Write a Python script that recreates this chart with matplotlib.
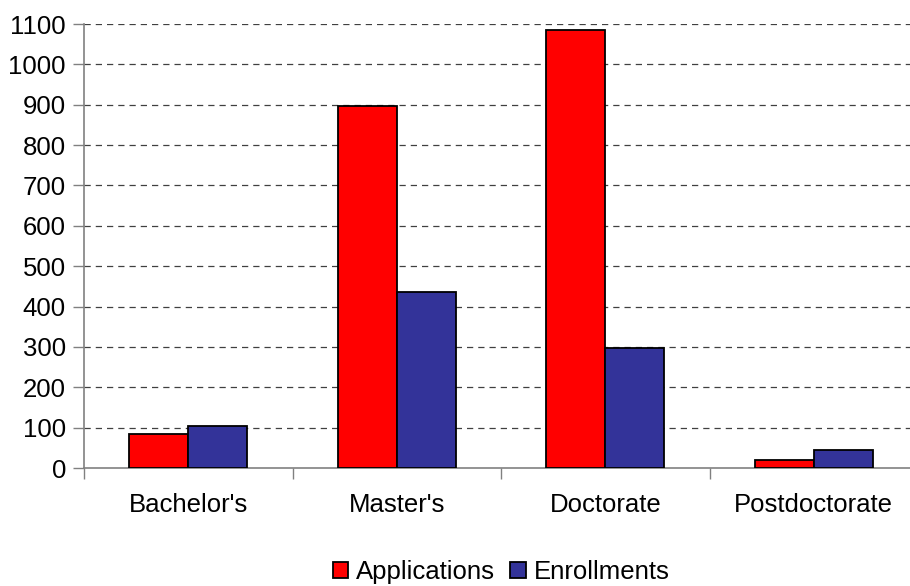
import numpy as np
import matplotlib
matplotlib.use('Agg')
import matplotlib.pyplot as plt

plt.rcParams['font.family'] = ['Liberation Sans', 'DejaVu Sans']

# Datos
categorias = ["Bachelor's", "Master's", "Doctorate", "Postdoctorate"]
applications = [84, 897, 1085, 20]
enrollments = [104, 437, 298, 45]

fig = plt.figure(figsize=(9.1, 5.86), dpi=100)
ax = fig.add_axes([84 / 910, 1 - 468 / 586, 834 / 910, 444 / 586])

x = np.arange(len(categorias))
ancho = 0.284
ax.bar(x - ancho / 2, applications, ancho, color='#FF0000', edgecolor='black',
       linewidth=1.3, label='Applications', zorder=3)
ax.bar(x + ancho / 2, enrollments, ancho, color='#333399', edgecolor='black',
       linewidth=1.3, label='Enrollments', zorder=3)

ax.set_xlim(-0.5, len(categorias) - 0.5)
ax.set_ylim(0, 1100)
ax.set_yticks(np.arange(0, 1101, 100))
ax.tick_params(axis='y', labelsize=18.5, length=8, width=1, color='#808080', pad=5)

# ticks del eje x en los bordes de cada categoria, etiquetas centradas
ax.set_xticks(np.arange(len(categorias) + 1) - 0.5)
ax.set_xticklabels([])
ax.set_xticks(x, minor=True)
ax.set_xticklabels(categorias, minor=True, fontsize=18.5)
ax.tick_params(axis='x', which='major', length=8, width=1, color='#808080')
ax.tick_params(axis='x', which='minor', length=0, pad=18)

for s in ['top', 'right']:
    ax.spines[s].set_visible(False)
for s in ['left', 'bottom']:
    ax.spines[s].set_color('#808080')
    ax.spines[s].set_linewidth(1.2)

for v in np.arange(100, 1101, 100):
    ax.axhline(v, color='#404040', linestyle=(0, (5, 4)), linewidth=0.9, zorder=1)

fig.legend(loc='center', bbox_to_anchor=(501 / 910, 1 - 572 / 586), ncol=2,
           frameon=False, fontsize=18.5, handlelength=0.6, handleheight=0.6,
           handletextpad=0.3, columnspacing=0.6, borderpad=0)

fig.savefig('out.png', dpi=100)
